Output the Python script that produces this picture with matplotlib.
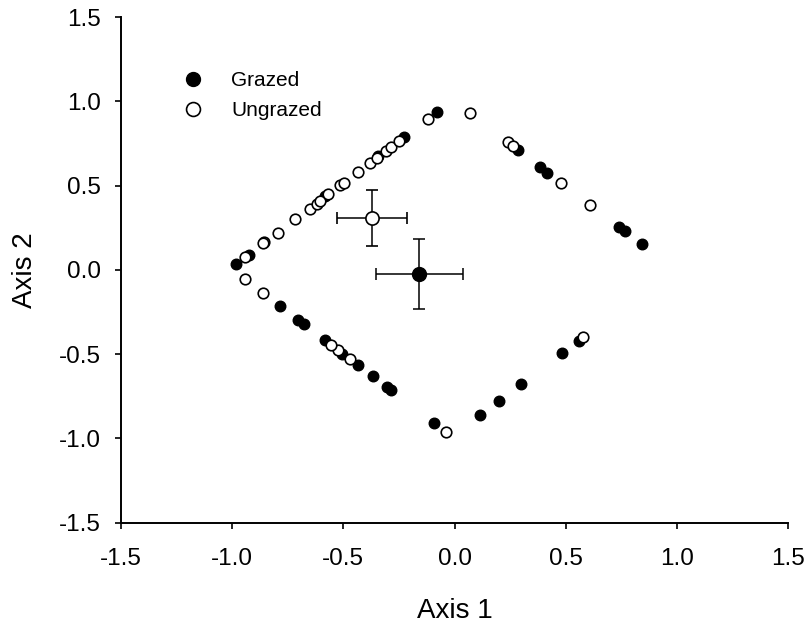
import matplotlib
matplotlib.use("Agg")
import matplotlib.pyplot as plt
from matplotlib.lines import Line2D

plt.rcParams['font.family'] = ['Liberation Sans', 'DejaVu Sans']

grazed_x = [-0.984, -0.926, -0.582, -0.343, -0.229, -0.079, 0.285, 0.384, 0.417,
            0.742, 0.765, 0.842, 0.561, 0.483, 0.300, 0.200, 0.115, -0.091,
            -0.286, -0.304, -0.367, -0.436, -0.504, -0.583, -0.679, -0.704, -0.786]
grazed_y = [0.034, 0.089, 0.436, 0.677, 0.790, 0.937, 0.711, 0.614, 0.578,
            0.255, 0.230, 0.154, -0.420, -0.495, -0.679, -0.776, -0.864, -0.909,
            -0.715, -0.695, -0.632, -0.564, -0.497, -0.416, -0.321, -0.297, -0.214]

ungrazed_x = [-0.942, -0.942, -0.863, -0.857, -0.862, -0.795, -0.717, -0.652, -0.619,
              -0.606, -0.567, -0.513, -0.499, -0.436, -0.381, -0.350, -0.309, -0.287,
              -0.250, -0.118, 0.070, 0.240, 0.265, 0.477, 0.610, 0.579, -0.038,
              -0.471, -0.526, -0.556]
ungrazed_y = [0.075, -0.055, -0.135, 0.165, 0.160, 0.222, 0.301, 0.362, 0.392,
              0.410, 0.453, 0.505, 0.519, 0.582, 0.634, 0.664, 0.709, 0.731,
              0.766, 0.899, 0.929, 0.759, 0.733, 0.519, 0.384, -0.400, -0.963,
              -0.529, -0.473, -0.446]

# group means with standard errors
mean_grazed = (-0.159, -0.024)
err_grazed = (0.195, 0.21)
mean_ungrazed = (-0.37, 0.307)
err_ungrazed = (0.157, 0.166)

xticks = [-1.5, -1.0, -0.5, 0.0, 0.5, 1.0, 1.5]
yticks = [-1.5, -1.0, -0.5, 0.0, 0.5, 1.0, 1.5]

fig = plt.figure(figsize=(8.05, 6.24), dpi=100)
ax = fig.add_axes([121/805, 1 - 522.5/624, (788 - 121)/805, (522.5 - 17.3)/624])

ms = 7.6
ax.plot(grazed_x, grazed_y, 'o', ms=ms, mfc='black', mec='black', mew=1.0, ls='none', zorder=3)
ax.plot(ungrazed_x, ungrazed_y, 'o', ms=ms, mfc='white', mec='black', mew=1.2, ls='none', zorder=4)

ax.errorbar(mean_ungrazed[0], mean_ungrazed[1], xerr=err_ungrazed[0], yerr=err_ungrazed[1],
            fmt='o', ms=9.5, mfc='white', mec='black', mew=1.2, ecolor='black',
            elinewidth=1.1, capsize=4.5, capthick=1.1, zorder=5)
ax.errorbar(mean_grazed[0], mean_grazed[1], xerr=err_grazed[0], yerr=err_grazed[1],
            fmt='o', ms=10, mfc='black', mec='black', ecolor='black',
            elinewidth=1.1, capsize=4.5, capthick=1.1, zorder=5)

ax.set_xlim(-1.5, 1.5)
ax.set_ylim(-1.5, 1.5)
ax.set_xticks(xticks)
ax.set_yticks(yticks)
ax.set_xticklabels([f"{t:.1f}" for t in xticks])
ax.set_yticklabels([f"{t:.1f}" for t in yticks])

for s in ['top', 'right']:
    ax.spines[s].set_visible(False)
for s in ['left', 'bottom']:
    ax.spines[s].set_linewidth(1.4)
ax.tick_params(direction='out', length=4.5, width=1.2, labelsize=17.5)
ax.tick_params(axis='x', pad=14)
ax.tick_params(axis='y', pad=10)

ax.set_xlabel('Axis 1', fontsize=20, labelpad=20)
ax.set_ylabel('Axis 2', fontsize=20, labelpad=15)

handles = [Line2D([], [], marker='o', ls='none', ms=10, mfc='black', mec='black'),
           Line2D([], [], marker='o', ls='none', ms=10, mfc='white', mec='black', mew=1.2)]
ax.legend(handles, ['Grazed', 'Ungrazed'], loc='upper left',
          bbox_to_anchor=(0.064, 0.9095), frameon=False, fontsize=15,
          handletextpad=0.85, labelspacing=0.53, borderaxespad=0)

fig.savefig('out.png', dpi=100)
